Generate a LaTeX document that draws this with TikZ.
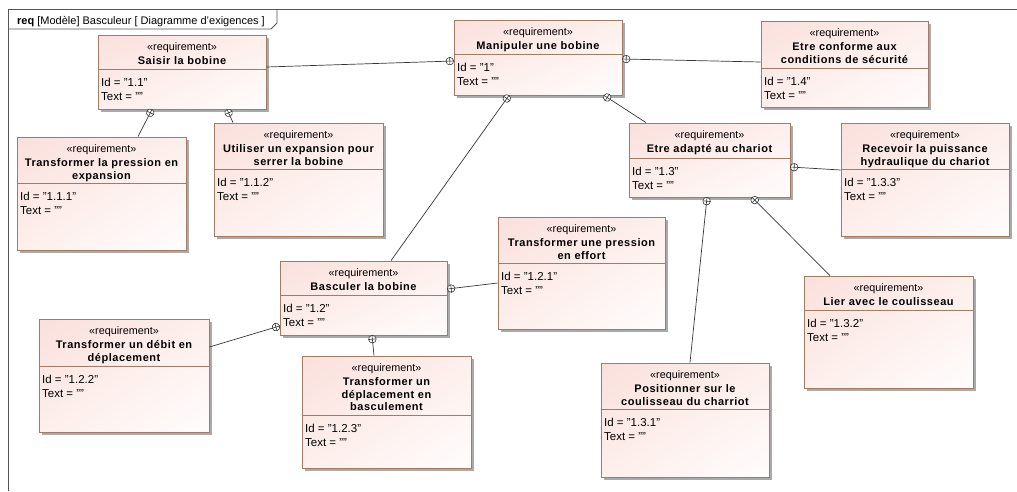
\documentclass[tikz,border=0pt]{standalone}
\usepackage{fontspec}
\setmainfont{Liberation Sans}
\newfontfamily\reqtitlefont{Liberation Sans}[LetterSpace=5]
\usetikzlibrary{fit,decorations.markings,shadings}

\definecolor{reqedge}{RGB}{163,122,100}
\definecolor{reqpink}{RGB}{250,224,220}
\definecolor{reqmid}{RGB}{253,239,236}
\definecolor{reqwhite}{RGB}{255,253,253}
\definecolor{shadowc}{RGB}{170,170,170}
\definecolor{linec}{RGB}{55,55,55}
\definecolor{framec}{RGB}{85,85,85}

\tikzset{
  reqbox/.style={draw=reqedge, line width=0.8pt, inner sep=0pt,
    upper left=reqpink, upper right=reqmid, lower left=reqmid, lower right=reqwhite},
  stereo/.style={anchor=base, inner sep=0pt, font=\fontsize{10.8}{12}\selectfont},
  reqtitle/.style={anchor=base, inner sep=0pt,
    font=\reqtitlefont\bfseries\fontsize{11}{12.5}\selectfont},
  attr/.style={anchor=base west, inner sep=0pt, font=\fontsize{11.5}{13}\selectfont},
  divider/.style={draw=reqedge, line width=0.8pt},
  shadowbox/.style={fill=shadowc},
  framestyle/.style={draw=framec, line width=0.8pt},
  contain/.style={draw=linec, line width=0.7pt,
    postaction={decorate, decoration={markings, mark=at position 0 with {
      \draw[linec, fill=white, line width=0.6pt] (3.8pt,0pt) circle[radius=3.8pt];
      \draw[linec, line width=0.6pt] (0pt,0pt) -- (7.6pt,0pt) (3.8pt,-3.8pt) -- (3.8pt,3.8pt);
    }}}},
}

% requirement block: name, x1, y1, x2, y2, divider y, title lines, id
\newcommand\reqnode[8]{%
  \fill[shadowbox] (#2+3,#3+3) rectangle (#4+3,#5+3);
  \node[reqbox, fit={(#2,#3) (#4,#5)}] (#1) {};
  \draw[divider] (#1.west |- 0,#6) -- (#1.east |- 0,#6);
  \node[stereo] (#1-st) at ({(#2+#4)/2},#3+15) {«requirement»};
  \foreach \tline [count=\k] in {#7}
    \node[reqtitle] (#1-t\k) at ({(#2+#4)/2},{#3+17+12.5*\k}) {\tline};
  \node[attr] (#1-id) at (#2+3,#6+17) {Id = "#8"};
  \node[attr] (#1-tx) at (#2+3,#6+31) {Text = ""};
}

\begin{document}
\begin{tikzpicture}[x=1pt,y=-1pt]
\useasboundingbox (0,0) rectangle (1017,491);

% diagram frame and its name tab
\draw[framestyle] (8,491) -- (8,9) -- (1017,9);
\draw[framestyle] (8,29) -- (271,29) -- (277,23) -- (277,9);
\node[anchor=base west, inner sep=0pt, font=\fontsize{11}{13}\selectfont] (framelabel) at (17,24)
  {\textbf{req} [Modèle] Basculeur [ Diagramme d'exigences ]};

% requirements
\reqnode{manip}{454}{20}{622}{95}{54}{Manipuler une bobine}{1}
\reqnode{saisir}{98}{35}{266}{109}{69}{Saisir la bobine}{1.1}
\reqnode{conforme}{761}{21}{928}{107}{68}{Etre conforme aux, conditions de sécurité}{1.4}
\reqnode{pressexp}{17}{137}{186}{250}{183}{Transformer la pression en, expansion}{1.1.1}
\reqnode{utiliser}{214}{123}{383}{236}{169}{Utiliser un expansion pour, serrer la bobine}{1.1.2}
\reqnode{adapte}{629}{123}{790}{197}{158}{Etre adapté au chariot}{1.3}
\reqnode{recevoir}{841}{123}{1009}{236}{169}{Recevoir la puissance, hydraulique du chariot}{1.3.3}
\reqnode{presseff}{498}{217}{665}{329}{263}{Transformer une pression, en effort}{1.2.1}
\reqnode{basculer}{280}{261}{447}{335}{295}{Basculer la bobine}{1.2}
\reqnode{debit}{39}{319}{209}{432}{366}{Transformer un débit en, déplacement}{1.2.2}
\reqnode{deplbasc}{302}{356}{471}{468}{415}{Transformer un, déplacement en, basculement}{1.2.3}
\reqnode{lier}{804}{276}{973}{388}{310}{Lier avec le coulisseau}{1.3.2}
\reqnode{position}{601}{363}{769}{477}{409}{Positionner sur le, coulisseau du charriot}{1.3.1}

% containment links (owner end carries the circled cross)
\draw[contain] (manip.west |- 0,61) -- (saisir.east |- 0,67);
\draw[contain] (manip.east |- 0,59) -- (conforme.west |- 0,62);
\draw[contain] (manip.south -| 509,0) -- (basculer.north -| 391,0);
\draw[contain] (manip.south -| 604,0) -- (adapte.north -| 646,0);
\draw[contain] (saisir.south -| 152,0) -- (pressexp.north -| 138,0);
\draw[contain] (saisir.south -| 227,0) -- (utiliser.north -| 233,0);
\draw[contain] (adapte.east |- 0,167) -- (recevoir.west |- 0,170);
\draw[contain] (adapte.south -| 707,0) -- (position.north -| 690,0);
\draw[contain] (adapte.south -| 752,0) -- (lier.north -| 830,0);
\draw[contain] (basculer.east |- 0,289) -- (presseff.west |- 0,283);
\draw[contain] (basculer.west |- 0,326) -- (debit.east |- 0,347);
\draw[contain] (basculer.south -| 372,0) -- (deplbasc.north -| 374,0);
\end{tikzpicture}
\end{document}
